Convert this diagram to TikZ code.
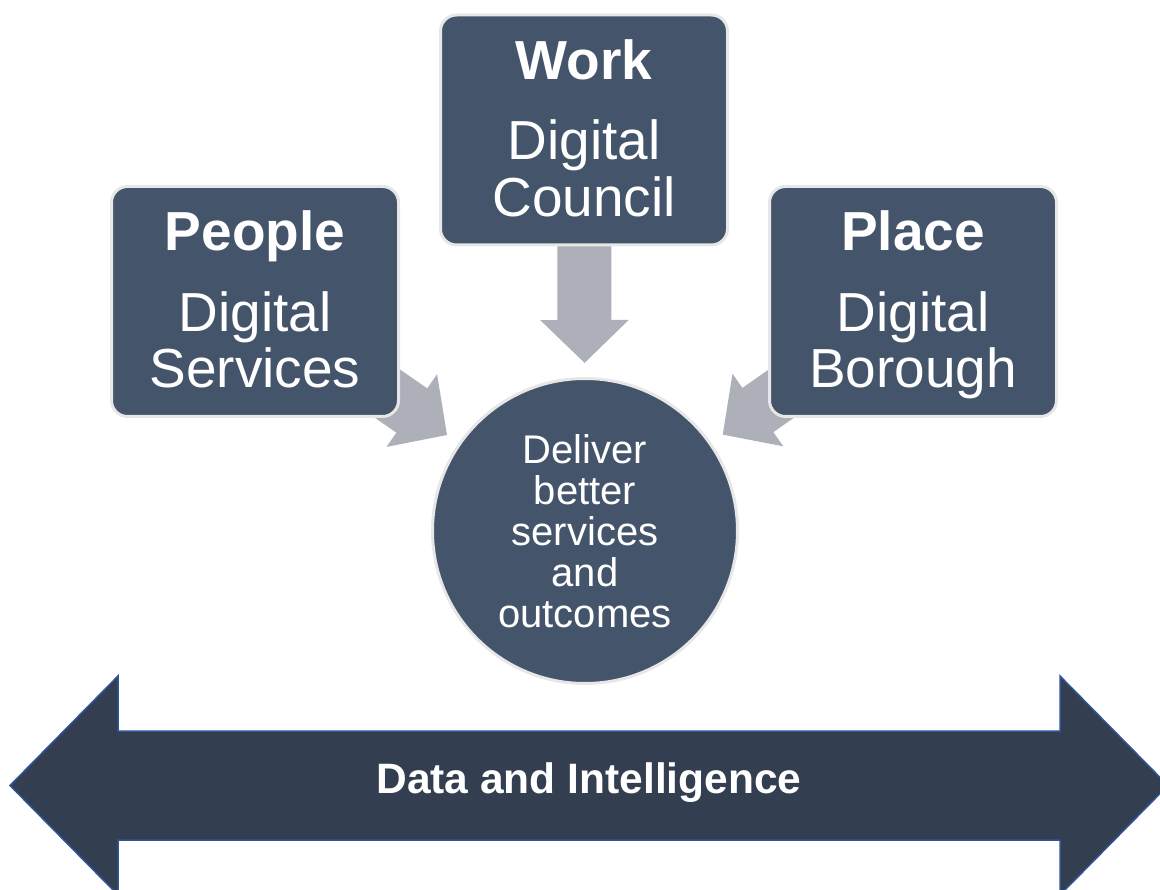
\documentclass[tikz,border=0pt]{standalone}
\usepackage{fontspec}
\setmainfont{Liberation Sans}
\usetikzlibrary{arrows.meta,backgrounds}
\definecolor{tileblue}{RGB}{68,84,106}
\definecolor{tileedge}{RGB}{231,231,231}
\definecolor{feedgrey}{RGB}{173,176,185}
\definecolor{bandfill}{RGB}{51,63,80}
\definecolor{bandedge}{RGB}{47,85,151}
\begin{document}
\begin{tikzpicture}[x=1pt,y=-1pt,
  tile/.style={draw=tileedge, line width=3pt, fill=tileblue, rounded corners=16pt,
    minimum width=287pt, minimum height=230pt, inner sep=0pt,
    text=white, align=center, font=\fontsize{55}{56.5}\selectfont,
    execute at end node={\rule[-4.4pt]{0pt}{4.4pt}}},
  hub/.style={circle, draw=tileedge, line width=3pt, fill=tileblue,
    minimum size=305pt, inner sep=0pt,
    text=white, align=center, font=\fontsize{40}{41}\selectfont},
  feed/.style={draw=feedgrey, line width=54pt,
    -{Triangle[width=86pt,length=43pt]}, shorten >=14pt},
  band/.style={draw=bandedge, line width=1.5pt, fill=bandfill}]

\useasboundingbox (0,0) rectangle (1160,890);

% Three themes
\node[tile] (people) at (255,301.5) {\textbf{People}\\[24.2pt]Digital\\Services};
\node[tile] (work) at (584,130) {\textbf{Work}\\[24.2pt]Digital\\Council};
\node[tile] (place) at (913,301.5) {\textbf{Place}\\[24.2pt]Digital\\\smash{Borough}};

% Outcome in the middle
\node[hub] (deliver) at (585,531) {Deliver\\better\\services\\and\\outcomes};

% Arrows into the outcome
\begin{scope}[on background layer]
\draw[feed] (people.center) -- (deliver);
\draw[feed] (work.center) -- (deliver);
\draw[feed] (place.center) -- (deliver);
\end{scope}

% Data band across the bottom
\draw[band] (10,785.5) -- (118,676) -- (118,731) -- (1060,731) -- (1060,676)
  -- (1168,785.5) -- (1060,895) -- (1060,840) -- (118,840) -- (118,895) -- cycle;
\node[text=white, font=\fontsize{42.5}{48}\selectfont\bfseries] (data) at (589,783) {Data and Intelligence};

\end{tikzpicture}
\end{document}
